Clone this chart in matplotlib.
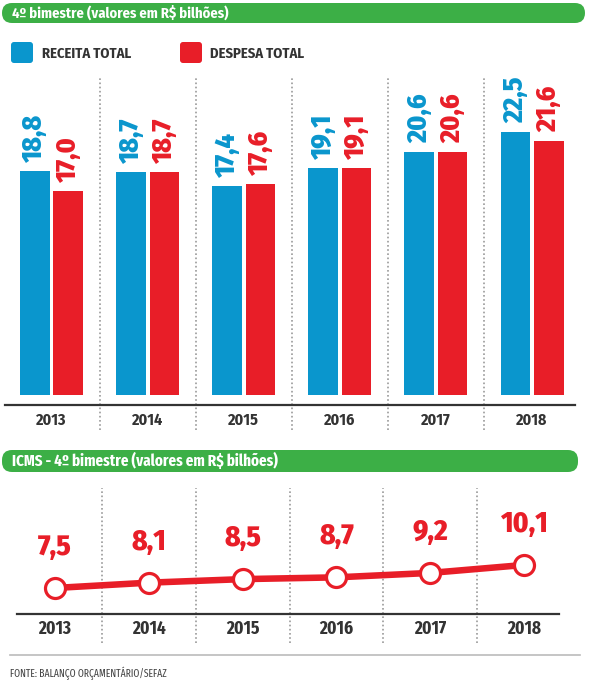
import numpy as np
import matplotlib
matplotlib.use("Agg")
import matplotlib.pyplot as plt
from matplotlib.patches import FancyBboxPatch
from matplotlib.transforms import IdentityTransform
from matplotlib.lines import Line2D

# ---------------- data ----------------
years = ["2013", "2014", "2015", "2016", "2017", "2018"]
receita = [18.8, 18.7, 17.4, 19.1, 20.6, 22.5]
despesa = [17.0, 18.7, 17.6, 19.1, 20.6, 21.6]
icms = [7.5, 8.1, 8.5, 8.7, 9.2, 10.1]
title_top = "4º bimestre (valores em R$ bilhões)"
title_bottom = "ICMS - 4º bimestre (valores em R$ bilhões)"
legend_labels = ["RECEITA TOTAL", "DESPESA TOTAL"]
source = "FONTE: BALANÇO ORÇAMENTÁRIO/SEFAZ"

# ---------------- style ----------------
W, H = 592, 690
BLUE = "#0A96CD"
RED = "#E81E28"
GREEN = "#3CAF46"
DARK = "#333333"
GRID = "#9A9A9A"
COND = ["Fira Sans Condensed", "Roboto Condensed", "DejaVu Sans"]
XCOND = ["Fira Sans Extra Condensed", "Fira Sans Condensed", "DejaVu Sans"]

fig = plt.figure(figsize=(W / 100, H / 100), dpi=100)
fig.patch.set_facecolor("white")


def fx(px):
    return px / W


def fy(py):
    return 1 - py / H


def axes_px(left, top, right, bottom):
    return fig.add_axes([fx(left), fy(bottom), (right - left) / W, (bottom - top) / H])


def fmt(v):
    return f"{v:.1f}".replace(".", ",")


def header(x0, y0, x1, y1, text, size, fam):
    patch = FancyBboxPatch((x0, H - y1), x1 - x0, y1 - y0,
                           boxstyle="round,pad=0,rounding_size=10",
                           transform=IdentityTransform(), facecolor=GREEN,
                           edgecolor="none")
    fig.add_artist(patch)
    fig.text(fx(x0 + 10), fy((y0 + y1) / 2), text, color="white", fontsize=size,
             fontweight="bold", family=fam, ha="left", va="center")


# ---------------- headers ----------------
header(2, 3, 585, 23, title_top, 10.5, COND)
header(2, 450, 578, 472, title_bottom, 11.8, XCOND)

# ---------------- legend ----------------
for (sx, tx), col, lab in zip([(11, 42), (180, 210)], [BLUE, RED], legend_labels):
    sq = FancyBboxPatch((sx, H - 63), 22, 21, boxstyle="round,pad=0,rounding_size=3",
                        transform=IdentityTransform(), facecolor=col, edgecolor="none")
    fig.add_artist(sq)
    fig.text(fx(tx), fy(54), lab, color=DARK, fontsize=10.5, fontweight="bold",
             family=COND, ha="left", va="center")

# ---------------- bar chart ----------------
ax = axes_px(5, 75, 575, 405)
x = np.arange(len(years))
ylo, yhi = -2.973, 27.78
base = -2.041
off, bw = 0.174, 0.307
ax.bar(x - off, np.array(receita) - base, bottom=base, width=bw, color=BLUE)
ax.bar(x + off, np.array(despesa) - base, bottom=base, width=bw, color=RED)
for xi, v in zip(x, receita):
    ax.annotate(fmt(v), (xi - off, v), xytext=(0, 6.5), textcoords="offset points",
                rotation=90, ha="center", va="bottom", color=BLUE, fontsize=20,
                fontweight="heavy", family=COND)
for xi, v in zip(x, despesa):
    ax.annotate(fmt(v), (xi + off, v), xytext=(0, 6.5), textcoords="offset points",
                rotation=90, ha="center", va="bottom", color=RED, fontsize=20,
                fontweight="heavy", family=COND)
ax.set_xlim(-0.484, 5.447)
ax.set_ylim(ylo, yhi)
for s in ["top", "left", "right"]:
    ax.spines[s].set_visible(False)
ax.spines["bottom"].set_color(DARK)
ax.spines["bottom"].set_linewidth(1.6)
ax.set_yticks([])
ax.set_xticks(x)
ax.set_xticklabels(years, fontsize=11.5, fontweight="bold", family=COND, color=DARK)
ax.tick_params(axis="x", length=0, pad=5)
for xd in x[:-1] + 0.5:
    ax.axvline(xd, ymin=-0.0758, ymax=0.994, color=GRID, lw=1.2,
               linestyle=(0, (1, 1.5)), clip_on=False, zorder=0)
ax.patch.set_alpha(0)

# ---------------- line chart ----------------
ax2 = axes_px(17, 480, 559, 614)
ax2.plot(x, icms, color=RED, lw=4.7, marker="o", markersize=14.4,
         markerfacecolor="white", markeredgecolor=RED, markeredgewidth=2.3,
         solid_capstyle="round", zorder=3)
for xi, v in zip(x, icms):
    ax2.annotate(fmt(v), (xi, v), xytext=(0, 23.8), textcoords="offset points",
                 ha="center", va="baseline", color=RED, fontsize=21,
                 fontweight="heavy", family=COND)
ax2.set_xlim(-0.405, 5.373)
ax2.set_ylim(4.56, 19.7)
for s in ["top", "left", "right"]:
    ax2.spines[s].set_visible(False)
ax2.spines["bottom"].set_color(DARK)
ax2.spines["bottom"].set_linewidth(1.6)
ax2.set_yticks([])
ax2.set_xticks(x)
ax2.set_xticklabels(years, fontsize=13.5, fontweight="bold", family=XCOND, color=DARK)
ax2.tick_params(axis="x", length=0, pad=4)
for xd in x[:-1] + 0.5:
    ax2.axvline(xd, ymin=-0.216, ymax=0.94, color=GRID, lw=1.2,
                linestyle=(0, (1, 1.5)), clip_on=False, zorder=0)
ax2.patch.set_alpha(0)

# ---------------- footer ----------------
fig.add_artist(Line2D([fx(10), fx(580)], [fy(655), fy(655)], color="#BBBBBB", lw=1.2))
fig.text(fx(10), fy(673), source, fontsize=7.5, color="#444444", family=XCOND,
         ha="left", va="center")

fig.savefig("out.png", dpi=100, facecolor="white")
